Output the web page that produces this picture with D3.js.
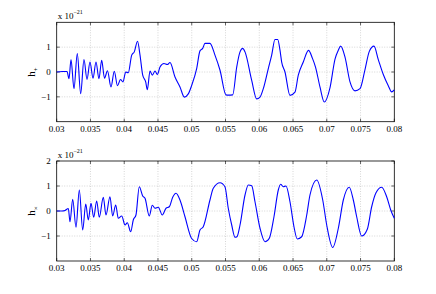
<!DOCTYPE html>
<head>
<meta charset="utf-8">
<script src="https://d3js.org/d3.v7.min.js"></script>
<style>
body { margin:0; background:#fff; }
</style>
</head>
<body>
<script>

var xTicks = [0.03, 0.035, 0.04, 0.045, 0.05, 0.055, 0.06, 0.065, 0.07, 0.075, 0.08];

// h+ (top panel), units of 1e-21
var tPlus = [0.03000,0.03079,0.03153,0.03182,0.03212,0.03256,0.03305,0.03355,0.03404,0.03449,
  0.03493,0.03538,0.03582,0.03626,0.03666,0.03708,0.03752,0.03804,0.03853,0.03900,
  0.03945,0.03982,0.04022,0.04060,0.04111,0.04149,0.04197,0.04234,0.04274,0.04318,
  0.04342,0.04382,0.04416,0.04456,0.04490,0.04530,0.04589,0.04638,0.04678,0.04752,
  0.04826,0.04890,0.04949,0.04999,0.05073,0.05122,0.05162,0.05196,0.05270,0.05344,
  0.05419,0.05507,0.05541,0.05607,0.05666,0.05715,0.05755,0.05789,0.05888,0.05962,
  0.06011,0.06060,0.06134,0.06184,0.06233,0.06273,0.06307,0.06332,0.06381,0.06455,
  0.06529,0.06578,0.06652,0.06729,0.06788,0.06833,0.06900,0.06963,0.07048,0.07122,
  0.07171,0.07206,0.07270,0.07344,0.07418,0.07492,0.07566,0.07630,0.07699,0.07763,
  0.07837,0.07911,0.07961,0.08000];
var hPlus = [0,0.02,0.02,-0.27,0.5,-0.67,0.74,-0.87,0.5,-0.3,
  0.4,-0.25,0.4,-0.27,0.47,-0.25,0.05,-0.6,0.03,-0.55,
  -0.3,-0.4,0,-0.03,0.68,0.81,1.24,0.68,-0.13,-0.4,
  -0.71,0.04,-0.13,0.04,-0.1,0.2,0.34,0.3,0.38,-0.2,
  -0.6,-1.01,-0.88,-0.54,0.14,0.85,0.95,1.15,1.15,0.68,
  0.07,-0.92,-0.93,-0.92,0.2,0.81,0.95,0.81,-0.34,-1.08,
  -1.01,-0.67,0.14,0.68,1.31,1.31,0.88,0.4,0,-0.94,
  -0.81,-0.13,0.4,0.87,0.55,0.2,-0.61,-1.21,-0.63,0.52,
  0.88,1.04,0.6,-0.4,-0.76,-0.67,0.1,0.83,1.04,0.5,
  -0.1,-0.55,-0.8,-0.72];

// hx (bottom panel)
var tCross = [0.03000,0.03079,0.03123,0.03172,0.03197,0.03237,0.03286,0.03335,0.03385,0.03430,
  0.03468,0.03508,0.03548,0.03592,0.03631,0.03690,0.03730,0.03789,0.03829,0.03874,
  0.03912,0.03963,0.04012,0.04046,0.04096,0.04134,0.04174,0.04223,0.04274,0.04308,
  0.04371,0.04416,0.04456,0.04505,0.04564,0.04619,0.04668,0.04718,0.04767,0.04826,
  0.04900,0.04999,0.05073,0.05122,0.05171,0.05270,0.05319,0.05419,0.05492,0.05541,
  0.05592,0.05641,0.05670,0.05715,0.05789,0.05838,0.05888,0.05937,0.06011,0.06085,
  0.06149,0.06218,0.06282,0.06317,0.06356,0.06396,0.06455,0.06514,0.06563,0.06628,
  0.06703,0.06751,0.06851,0.06940,0.06999,0.07088,0.07171,0.07245,0.07333,0.07393,
  0.07443,0.07517,0.07600,0.07665,0.07729,0.07813,0.07887,0.07951,0.08000];
var hCross = [0,0,0.02,0.1,-0.43,0.47,-0.65,0.84,-0.76,0.28,
  -0.36,0.31,-0.25,0.4,-0.25,0.55,-0.16,0.57,-0.2,0.24,
  -0.29,-0.2,-0.56,-0.47,-0.83,-0.36,-0.16,0.97,0.6,0.51,
  -0.2,0.23,0.11,0.15,-0.16,0.11,0.17,0.55,0.71,0.44,
  -0.23,-1.1,-1.23,-0.76,-0.63,0.44,0.91,1.13,0.97,0.11,
  -0.56,-1.05,-1.03,-0.56,0.64,1.04,1.01,0.37,-0.69,-1.23,
  -1.09,-0.23,0.84,1.07,0.97,1.0,0.37,-0.63,-1.12,-1.03,
  -0.16,0.64,1.24,0.44,-0.56,-1.46,-0.69,0.44,0.95,0.44,
  -0.23,-1.0,-0.73,0.17,0.73,0.95,0.57,0.01,-0.29];

var width = 436, height = 294;
var left = 56.7, right = 394.3;

var svg = d3.select("body").append("svg")
    .attr("width", width)
    .attr("height", height)
    .attr("font-family", "'Liberation Serif', 'Times New Roman', serif");

var x = d3.scaleLinear().domain([0.03, 0.08]).range([left, right]);

function panel(top, bottom, ts, hs, yTicks, sub) {
  var y = d3.scaleLinear().domain([-2, 2]).range([bottom, top]);
  var g = svg.append("g");

  // grid
  g.selectAll(".gx").data(xTicks.slice(1, -1)).enter().append("line")
    .attr("x1", d => x(d)).attr("x2", d => x(d))
    .attr("y1", top).attr("y2", bottom)
    .style("stroke", "#bbb").style("stroke-width", 0.6)
    .style("stroke-dasharray", "1,1.5");
  g.selectAll(".gy").data([-1, 0, 1]).enter().append("line")
    .attr("x1", left).attr("x2", right)
    .attr("y1", d => y(d)).attr("y2", d => y(d))
    .style("stroke", "#bbb").style("stroke-width", 0.6)
    .style("stroke-dasharray", "1,1.5");

  // ticks inward on all sides
  xTicks.forEach(function(t) {
    g.append("line").attr("x1", x(t)).attr("x2", x(t)).attr("y1", bottom).attr("y2", bottom - 3)
      .style("stroke", "#000").style("stroke-width", 0.6);
    g.append("line").attr("x1", x(t)).attr("x2", x(t)).attr("y1", top).attr("y2", top + 3)
      .style("stroke", "#000").style("stroke-width", 0.6);
  });
  yTicks.forEach(function(v) {
    g.append("line").attr("x1", left).attr("x2", left + 3).attr("y1", y(v)).attr("y2", y(v))
      .style("stroke", "#000").style("stroke-width", 0.6);
    g.append("line").attr("x1", right).attr("x2", right - 3).attr("y1", y(v)).attr("y2", y(v))
      .style("stroke", "#000").style("stroke-width", 0.6);
  });

  // frame
  g.append("rect").attr("x", left).attr("y", top)
    .attr("width", right - left).attr("height", bottom - top)
    .style("fill", "none").style("stroke", "#000").style("stroke-width", 0.8);

  // curve
  var line = d3.line()
    .x((d, i) => x(ts[i]))
    .y(d => y(d))
    .curve(d3.curveMonotoneX);
  g.append("path").datum(hs)
    .attr("d", line)
    .style("fill", "none").style("stroke", "#0000ff").style("stroke-width", 1.1);

  // tick labels
  g.selectAll(".xl").data(xTicks).enter().append("text")
    .attr("x", d => x(d)).attr("y", bottom + 10)
    .attr("text-anchor", "middle").style("font-size", "9px")
    .text(d => d3.format("")(d));
  g.selectAll(".yl").data(yTicks).enter().append("text")
    .attr("x", left - 6).attr("y", d => y(d) + 3)
    .attr("text-anchor", "end").style("font-size", "9px")
    .text(d => d < 0 ? "\u2212" + (-d) : d);

  // exponent
  var e = g.append("text").attr("x", left + 1).attr("y", top - 3).style("font-size", "9px");
  e.append("tspan").text("x 10");
  e.append("tspan").attr("dy", -5).style("font-size", "6px").text("\u221221");

  // y label
  var yl = g.append("text")
    .attr("transform", "translate(35," + y(0) + ") rotate(-90)")
    .attr("text-anchor", "middle").style("font-size", "11px");
  yl.append("tspan").text("h");
  yl.append("tspan").attr("dy", 2.5).style("font-size", "7px").text(sub);
}

panel(22.3, 121.7, tPlus, hPlus, [-1, 0, 1], "+");
panel(161, 261, tCross, hCross, [-1, 0, 1, 2], "\u00d7");

</script>
</body>
